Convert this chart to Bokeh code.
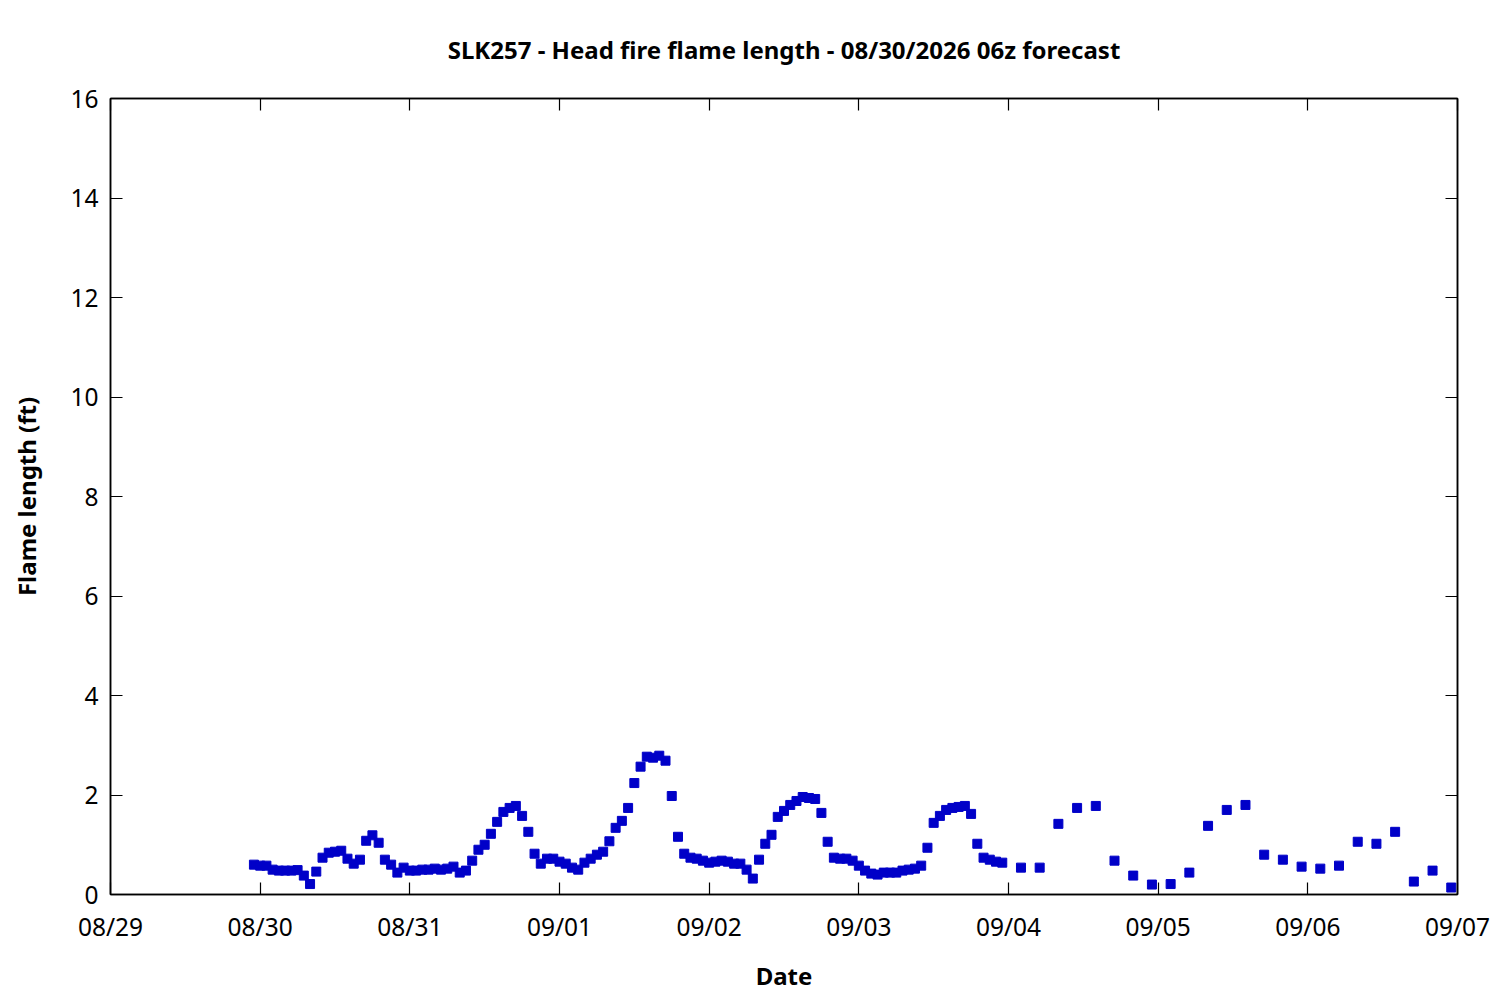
import pandas as pd
from bokeh.plotting import figure
from bokeh.models import (FixedTicker, DatetimeTickFormatter, LinearAxis, DatetimeAxis, Range1d,
                          ColumnDataSource, CustomLabelingPolicy)
from bokeh.embed import file_html
from bokeh.resources import INLINE

# ---- data ----
title_text = "SLK257 - Head fire flame length - 08/30/2026 06z forecast"
hourly_start = "2026-08-29 23:00"
hourly_values = [
    0.60, 0.58, 0.58, 0.50, 0.48, 0.48, 0.48, 0.49, 0.38, 0.21,
    0.46, 0.74, 0.84, 0.86, 0.88, 0.72, 0.62, 0.70, 1.08, 1.19,
    1.04, 0.70, 0.60, 0.44, 0.54, 0.48, 0.48, 0.50, 0.50, 0.52,
    0.50, 0.52, 0.56, 0.44, 0.48, 0.68, 0.90, 1.00, 1.22, 1.46,
    1.66, 1.74, 1.78, 1.58, 1.26, 0.82, 0.62, 0.72, 0.72, 0.66,
    0.62, 0.54, 0.50, 0.64, 0.72, 0.80, 0.86, 1.07, 1.34, 1.48,
    1.74, 2.24, 2.57, 2.77, 2.75, 2.79, 2.69, 1.98, 1.16, 0.82,
    0.74, 0.72, 0.68, 0.64, 0.66, 0.68, 0.66, 0.62, 0.62, 0.50,
    0.32, 0.70, 1.02, 1.20, 1.56, 1.68, 1.80, 1.88, 1.96, 1.94,
    1.92, 1.64, 1.06, 0.74, 0.72, 0.72, 0.68, 0.58, 0.48, 0.42,
    0.40, 0.44, 0.44, 0.44, 0.48, 0.50, 0.52, 0.58, 0.94, 1.44,
    1.58, 1.70, 1.74, 1.76, 1.78, 1.62, 1.02, 0.74, 0.70, 0.66,
    0.64,
]
three_hourly_start = "2026-09-04 02:00"
three_hourly_values = [
    0.54, 0.54, 1.42, 1.74, 1.78, 0.68, 0.38, 0.20, 0.21, 0.44,
    1.38, 1.70, 1.80, 0.80, 0.70, 0.56, 0.52, 0.58, 1.06, 1.02,
    1.26, 0.26, 0.48, 0.14,
]
x_start = "2026-08-29"
x_end = "2026-09-07"
y_ticks = [0, 2, 4, 6, 8, 10, 12, 14, 16]

times = list(pd.date_range(hourly_start, periods=len(hourly_values), freq="h")) + \
        list(pd.date_range(three_hourly_start, periods=len(three_hourly_values), freq="3h"))
values = hourly_values + three_hourly_values
src = ColumnDataSource(dict(t=times, v=values))

day_ticks = [pd.Timestamp(d).value // 10**6 for d in pd.date_range(x_start, x_end, freq="D")]

FONT = "Noto Sans"
TICK_SIZE = "24.5px"
LABEL_SIZE = "24px"

p = figure(width=1492, height=995, output_backend="svg", toolbar_location=None,
           x_axis_type="datetime",
           x_range=Range1d(pd.Timestamp(x_start), pd.Timestamp(x_end)),
           y_range=Range1d(0, 16),
           min_border_left=110, min_border_right=35, min_border_top=98, min_border_bottom=101)

p.title.text = title_text
p.title.align = "center"
p.title.text_font = FONT
p.title.text_font_size = "24px"
p.title.text_font_style = "bold"
p.title.text_color = "black"
p.title.standoff = 58

p.scatter("t", "v", source=src, marker="square", size=9, color="#0000c8")

fmt = DatetimeTickFormatter(days="%m/%d", months="%m/%d", hours="%m/%d", years="%m/%d")
p.xaxis.ticker = FixedTicker(ticks=day_ticks)
p.xaxis.formatter = fmt
p.yaxis.ticker = FixedTicker(ticks=y_ticks)

for ax in (p.xaxis[0], p.yaxis[0]):
    ax.major_tick_in = 12
    ax.major_tick_out = 0
    ax.minor_tick_line_color = None
    ax.major_label_text_font = FONT
    ax.major_label_text_font_size = TICK_SIZE
    ax.major_label_text_color = "black"
    ax.axis_label_text_font = FONT
    ax.axis_label_text_font_size = LABEL_SIZE
    ax.axis_label_text_font_style = "bold"
    ax.axis_label_text_color = "black"
    ax.axis_line_width = 1.5
    ax.major_tick_line_width = 1.2

p.xaxis.axis_label = "Date"
p.yaxis.axis_label = "Flame length (ft)"
p.xaxis.major_label_standoff = 15
p.xaxis.axis_label_standoff = 13
p.yaxis.major_label_standoff = 12
p.yaxis.axis_label_standoff = 24

top = DatetimeAxis(ticker=FixedTicker(ticks=day_ticks), formatter=fmt)
right = LinearAxis(ticker=FixedTicker(ticks=y_ticks))
for ax in (top, right):
    ax.major_tick_in = 12
    ax.major_tick_out = 0
    ax.minor_tick_line_color = None
    ax.major_label_text_font_size = "1px"
    ax.major_label_policy = CustomLabelingPolicy(code="return []")
    ax.major_label_standoff = 0
    ax.axis_line_width = 1.5
    ax.major_tick_line_width = 1.2
p.add_layout(top, "above")
p.add_layout(right, "right")

p.xgrid.grid_line_color = None
p.ygrid.grid_line_color = None
p.outline_line_color = "black"
p.outline_line_width = 1.5

open("out.html", "w").write(file_html(p, INLINE))
